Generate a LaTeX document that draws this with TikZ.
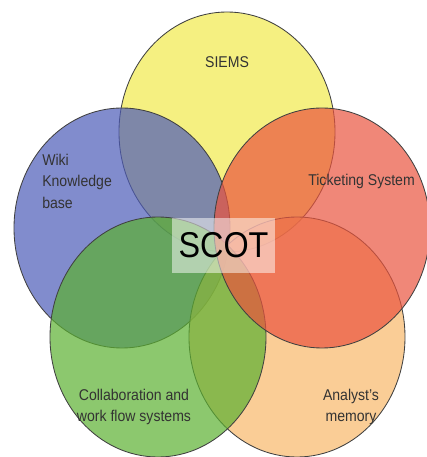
\documentclass[tikz,border=0pt]{standalone}
\usepackage{fontspec}
\setmainfont{Liberation Sans}
\usepackage{tikz}
\definecolor{siemsY}{RGB}{241,234,76}
\definecolor{wikiB}{RGB}{76,91,184}
\definecolor{tickR}{RGB}{234,84,62}
\definecolor{collG}{RGB}{91,176,48}
\definecolor{memO}{RGB}{248,184,105}

\begin{document}
\begin{tikzpicture}[x=1cm,y=1cm,
    set/.style={fill opacity=0.7, draw=black!75, line width=0.6pt},
    lbl/.style={font=\fontsize{10}{13.8}\selectfont, text=black!80, inner sep=0pt, yscale=1.11}]
    \useasboundingbox (0,0) rectangle (10.675,11.425);

    \filldraw[set, fill=siemsY] (5.675,8.125) ellipse (2.7 and 3);
    \filldraw[set, fill=wikiB] (3.05,5.725) ellipse (2.7 and 3);
    \filldraw[set, fill=memO] (7.425,3) ellipse (2.7 and 3);
    \filldraw[set, fill=collG] (3.95,3) ellipse (2.7 and 3);
    \filldraw[set, fill=tickR] (8.05,5.725) ellipse (2.7 and 3);

    \node[lbl] (siems) at (5.675,9.875) {SIEMS};
    \node[lbl, anchor=west, align=left] (wiki) at (1.05,6.9) {Wiki\\Knowledge\\base};
    \node[lbl, anchor=west] (ticket) at (7.7,6.9) {Ticketing System};
    \node[lbl, align=center] (collab) at (3.35,1.25) {Collaboration and\\work flow systems};
    \node[lbl, align=center] (memory) at (8.775,1.25) {Analyst's\\memory};

    \node[fill=white, fill opacity=0.5, text opacity=1, inner sep=0pt,
        minimum width=2.575cm, minimum height=1.24cm, yscale=1.11,
        font=\fontsize{23}{23}\selectfont] (scot) at (5.5875,5.2875) {SCOT};
\end{tikzpicture}
\end{document}
